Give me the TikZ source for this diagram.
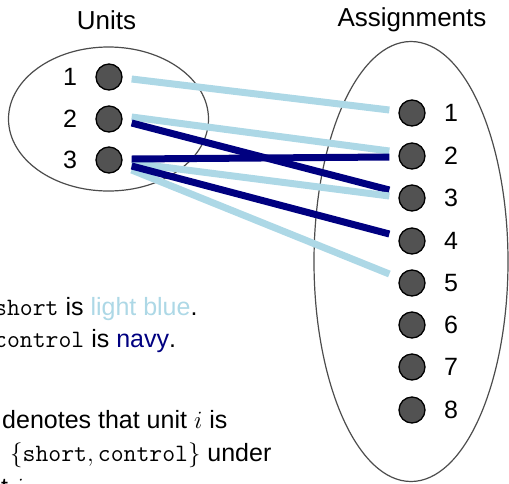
\documentclass[tikz,border=0pt]{standalone}
\usepackage{fontspec}
\setmainfont{Liberation Sans}
\definecolor{lightblue}{RGB}{173,216,230}
\definecolor{navy}{RGB}{0,0,128}
\begin{document}
\begin{tikzpicture}[x=1pt,y=-1pt,
  dot/.style={circle, draw=black, line width=1.3pt, fill=black!68, minimum size=26pt, inner sep=0pt},
  num/.style={font=\fontsize{25}{30}\selectfont, inner sep=0pt},
  title/.style={font=\fontsize{26}{31}\selectfont, inner sep=0pt},
  note/.style={font=\fontsize{25}{30}\selectfont, anchor=base west, inner sep=0pt},
  grp/.style={draw=black!70, line width=1.2pt},
  short/.style={draw=lightblue, line width=7pt},
  ctrl/.style={draw=navy, line width=7pt}]
\clip (0,0) rectangle (509,483);
\draw[grp] (108.5,119) ellipse [x radius=100pt, y radius=72pt];
\draw[grp] (411,261.5) ellipse [x radius=97pt, y radius=220pt];
\node[title] (units) at (106.5,20) {Units};
\node[title] (assign) at (412,20) {Assignments};
% units
\node[dot] (u1) at (109,77) {};
\node[dot] (u2) at (109,119) {};
\node[dot] (u3) at (109,160) {};
\node[num] (ul1) at (70,77) {1};
\node[num] (ul2) at (70,119) {2};
\node[num] (ul3) at (70,160) {3};
% assignments
\node[dot] (a1) at (412,113) {};
\node[dot] (a2) at (412,156) {};
\node[dot] (a3) at (412,198) {};
\node[dot] (a4) at (412,241) {};
\node[dot] (a5) at (412,283) {};
\node[dot] (a6) at (412,325) {};
\node[dot] (a7) at (412,367) {};
\node[dot] (a8) at (412,410) {};
\node[num] (al1) at (451,113) {1};
\node[num] (al2) at (451,156) {2};
\node[num] (al3) at (451,198) {3};
\node[num] (al4) at (451,241) {4};
\node[num] (al5) at (451,283) {5};
\node[num] (al6) at (451,325) {6};
\node[num] (al7) at (451,367) {7};
\node[num] (al8) at (451,410) {8};
% edges
\draw[short] ([xshift=9pt,yshift=-2pt]u1.east) -- ([xshift=-9pt,yshift=3pt]a1.west);
\draw[short] ([xshift=9pt,yshift=2pt]u2.east) -- ([xshift=-9pt,yshift=5pt]a2.west);
\draw[ctrl] ([xshift=9pt,yshift=-4pt]u2.east) -- ([xshift=-9pt,yshift=8pt]a3.west);
\draw[short] ([xshift=9pt,yshift=-3pt]u3.east) -- ([xshift=-9pt,yshift=2pt]a3.west);
\draw[short] ([xshift=9pt,yshift=-10pt]u3.east) -- ([xshift=-9pt,yshift=9pt]a5.west);
\draw[ctrl] ([xshift=9pt,yshift=1pt]u3.east) -- ([xshift=-9pt,yshift=-1pt]a2.west);
\draw[ctrl] ([xshift=9pt,yshift=-6pt]u3.east) -- ([xshift=-9pt,yshift=7pt]a4.west);
% legend
\node[note] (lgshort) at (-6,315) {\texttt{short} is {\color{lightblue}light blue}.};
\node[note] (lgctrl) at (-6,347) {\texttt{control} is {\color{navy}navy}.};
\node[note] (edge1) at (2,428) {denotes that unit $i$ is};
\node[note] (edge2) at (10,461) {$\{\texttt{short},\texttt{control}\}$ under};
\node[note] (edge3) at (1,495) {t $i$.};
\end{tikzpicture}
\end{document}
